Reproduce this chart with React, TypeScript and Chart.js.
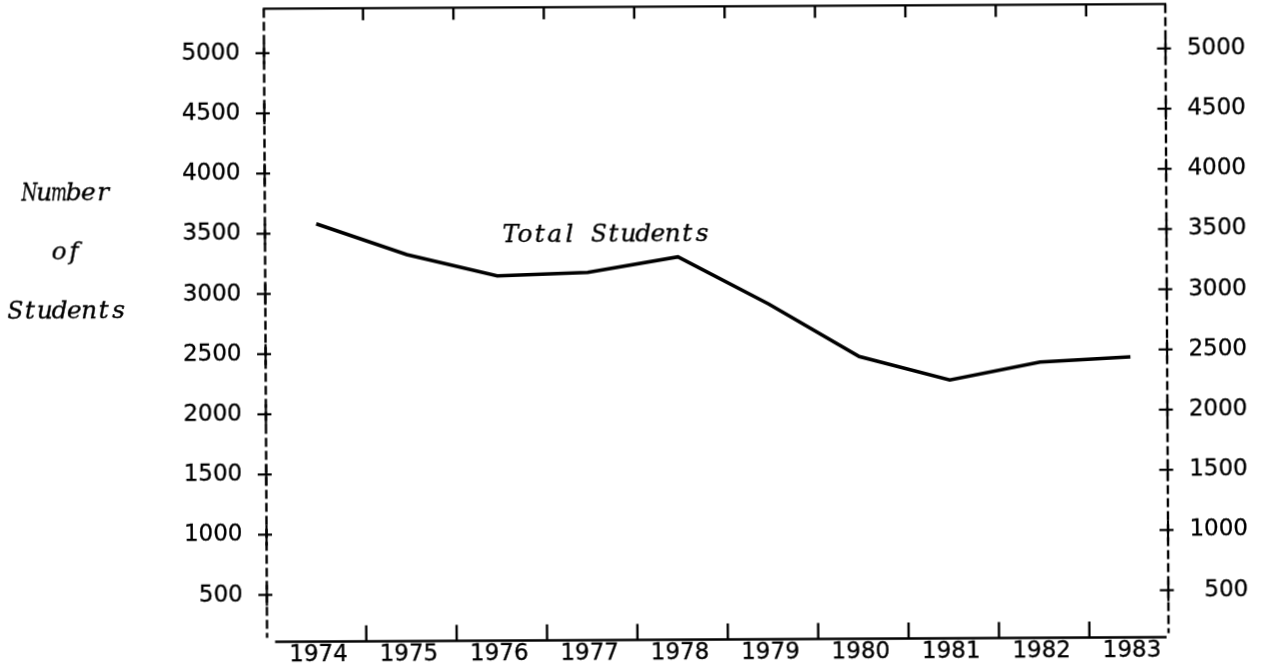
import React, { useEffect, useRef } from "react";
import { Chart, registerables } from "chart.js";

Chart.register(...registerables);

// ---- data ----
const years = [1974, 1975, 1976, 1977, 1978, 1979, 1980, 1981, 1982, 1983];
const totalStudents = [3580, 3320, 3140, 3165, 3290, 2895, 2455, 2255, 2400, 2440];
const yTickValues = [500, 1000, 1500, 2000, 2500, 3000, 3500, 4000, 4500, 5000];
const yTitleLines = ["Number", "of", "Students"];
const seriesName = "Total Students";

// ---- styles ----
const W = 1269;
const H = 671;
const NUM_FAMILY = "'DejaVu Sans', 'Liberation Sans', sans-serif";
const TYPE_FONT = "italic 25px 'DejaVu Serif', 'Liberation Serif', serif";
const TYPE_CELL = 14.75;

// typewriter-style text: every character in a fixed-width cell
function drawTyped(ctx: CanvasRenderingContext2D, text: string, left: number, baseline: number) {
  ctx.save();
  ctx.font = TYPE_FONT;
  ctx.textAlign = "center";
  ctx.textBaseline = "alphabetic";
  ctx.strokeStyle = "#000";
  ctx.lineWidth = 0.35;
  for (let i = 0; i < text.length; i++) {
    const ch = text[i];
    if (ch === " ") continue;
    const cx = left + TYPE_CELL * (i + 0.5);
    const w = ctx.measureText(ch).width;
    const maxW = TYPE_CELL * 1.08;
    ctx.save();
    ctx.translate(cx, baseline);
    if (w > maxW) ctx.scale(maxW / w, 1);
    ctx.fillText(ch, 0, 0);
    ctx.strokeText(ch, 0, 0);
    ctx.restore();
  }
  ctx.restore();
}

const framePlugin = {
  id: "typewriterFrame",
  afterDraw(chart: any) {
    const { ctx, chartArea: a, scales } = chart;
    const xs = scales.x;
    const ys = scales.y;
    const seg = (x1: number, y1: number, x2: number, y2: number) => {
      ctx.beginPath();
      ctx.moveTo(x1, y1);
      ctx.lineTo(x2, y2);
      ctx.stroke();
    };
    ctx.save();
    ctx.strokeStyle = "#000";
    ctx.fillStyle = "#000";
    ctx.lineCap = "butt";
    ctx.lineWidth = 2.4;

    // top solid border and bottom solid baseline
    seg(a.left - 1, a.top, a.right + 1, a.top);
    seg(a.left + 8, a.bottom, a.right - 2, a.bottom);

    // tick marks between the years (top hanging down, bottom pointing up)
    for (let i = 0; i < years.length - 1; i++) {
      const px = xs.getPixelForValue(years[i] + 0.53);
      seg(px, a.top, px, a.top + 12);
      seg(px, a.bottom, px, a.bottom - 16);
    }

    // dashed side axes
    ctx.lineWidth = 2.4;
    ctx.setLineDash([9, 4]);
    seg(a.left, a.top, a.left, a.bottom - 4);
    seg(a.right, a.top, a.right, a.bottom - 4);
    ctx.setLineDash([]);

    // "+" marks at the value ticks on both sides
    ctx.lineWidth = 2.2;
    for (const v of yTickValues) {
      const py = ys.getPixelForValue(v);
      for (const ax of [a.left, a.right]) {
        seg(ax - 8.5, py, ax + 5.5, py);
        seg(ax, py - 10, ax, py + 11);
      }
    }

    // axis title (left) and series label
    const titleBaselines = [196.6, 255.6, 314.9];
    yTitleLines.forEach((t, i) => {
      drawTyped(ctx, t, 67 - (t.length * TYPE_CELL) / 2, titleBaselines[i]);
    });
    drawTyped(ctx, seriesName, 503.5, 241.4);

    ctx.restore();
  },
};

export default function App() {
  const canvasRef = useRef<HTMLCanvasElement | null>(null);

  useEffect(() => {
    const canvas = canvasRef.current;
    if (!canvas) return;
    const tickFont = { family: NUM_FAMILY, size: 23 };
    const tickCommon = {
      font: tickFont,
      color: "#000",
      textStrokeColor: "#000",
      textStrokeWidth: 0.3,
      callback: (v: any) => String(v),
    };
    const chart = new Chart(canvas, {
      type: "line",
      data: {
        datasets: [
          {
            label: seriesName,
            data: years.map((yr, i) => ({ x: yr, y: totalStudents[i] })),
            borderColor: "#000",
            backgroundColor: "#000",
            borderWidth: 3.6,
            pointRadius: 0,
            tension: 0,
            fill: false,
            borderJoinStyle: "miter",
          },
        ],
      },
      options: {
        animation: false,
        responsive: false,
        devicePixelRatio: 1,
        events: [],
        layout: { padding: { left: 0, right: 22, top: 6.4, bottom: 0 } },
        plugins: {
          legend: { display: false },
          tooltip: { enabled: false },
          title: { display: false },
        },
        scales: {
          x: {
            type: "linear",
            position: "bottom",
            min: 1973.4325,
            max: 1983.406,
            afterBuildTicks: (s: any) => {
              s.ticks = years.map((v) => ({ value: v }));
            },
            afterFit: (s: any) => {
              s.height = 31.5;
              s.paddingLeft = 0;
              s.paddingRight = 0;
            },
            ticks: {
              ...tickCommon,
              padding: 0,
              maxRotation: 0,
              minRotation: 0,
              autoSkip: false,
            },
            grid: { display: false, drawTicks: false },
            border: { display: false },
          },
          y: {
            type: "linear",
            position: "left",
            min: 110,
            max: 5369,
            afterBuildTicks: (s: any) => {
              s.ticks = yTickValues.map((v) => ({ value: v }));
            },
            afterFit: (s: any) => {
              s.width = 265.5;
              s.paddingTop = 0;
              s.paddingBottom = 0;
            },
            ticks: { ...tickCommon, padding: 24 },
            grid: { display: false, drawTicks: false },
            border: { display: false },
          },
          y2: {
            type: "linear",
            position: "right",
            min: 110,
            max: 5369,
            afterBuildTicks: (s: any) => {
              s.ticks = yTickValues.map((v) => ({ value: v }));
            },
            afterFit: (s: any) => {
              s.width = 80;
              s.paddingTop = 0;
              s.paddingBottom = 0;
            },
            ticks: { ...tickCommon, padding: 22, crossAlign: "far" },
            grid: { display: false, drawTicks: false },
            border: { display: false },
          },
        },
      } as any,
      plugins: [framePlugin],
    });
    return () => chart.destroy();
  }, []);

  return (
    <div
      style={{
        position: "absolute",
        left: 0,
        top: 0,
        width: W,
        height: H,
        background: "#fff",
        overflow: "hidden",
      }}
    >
      <canvas
        ref={canvasRef}
        width={W}
        height={H}
        style={{
          display: "block",
          transform: "rotate(-0.3deg)",
          transformOrigin: "716px 335px",
        }}
      />
    </div>
  );
}
